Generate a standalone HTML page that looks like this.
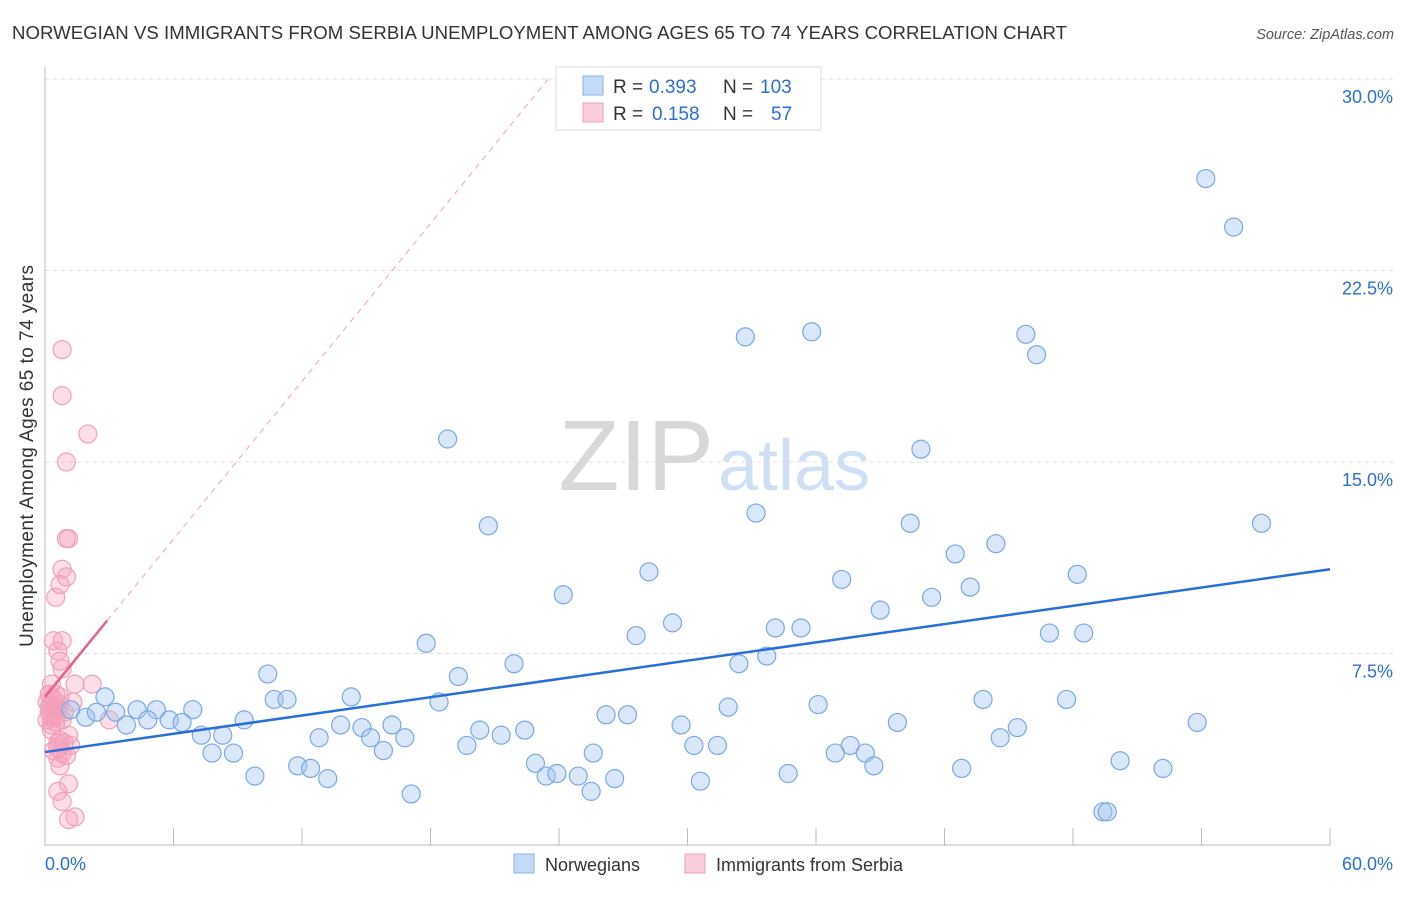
<!DOCTYPE html>
<html><head><meta charset="utf-8"><style>
body{margin:0;background:#fff;font-family:"Liberation Sans",sans-serif}
svg text{font-family:"Liberation Sans",sans-serif}
</style></head><body>
<svg id="c" width="1406" height="892" xmlns="http://www.w3.org/2000/svg">
<text x="12" y="39" font-size="18.6" fill="#333" textLength="1055">NORWEGIAN VS IMMIGRANTS FROM SERBIA UNEMPLOYMENT AMONG AGES 65 TO 74 YEARS CORRELATION CHART</text>
<text x="1394" y="39" font-size="14.5" fill="#555" text-anchor="end" font-style="italic">Source: ZipAtlas.com</text>
<text x="714" y="490" font-size="100" text-anchor="end" fill="#d8d8d8" font-family="Liberation Serif">ZIP</text>
<text x="718" y="490" font-size="72" fill="#cfe0f5">atlas</text>
<text transform="translate(33,456) rotate(-90)" font-size="19" fill="#333" text-anchor="middle" textLength="382">Unemployment Among Ages 65 to 74 years</text>
<g id="grid"></g><g id="axes"></g><g id="pink"></g><g id="blue"></g><g id="trend"></g>
<g>
<rect x="556" y="67" width="265" height="63" fill="#fff" stroke="#ddd"/>
<rect x="583" y="76" width="20" height="19" fill="#c5daf6" stroke="#8ab3e8"/>
<rect x="583" y="103" width="20" height="19" fill="#f9cdd9" stroke="#f0a0b8"/>
<text x="613" y="93" font-size="19" fill="#333">R =</text>
<text x="649" y="93" font-size="19" fill="#2a6fd6">0.393</text>
<text x="723" y="93" font-size="19" fill="#333">N =</text>
<text x="760" y="93" font-size="19" fill="#2a6fd6">103</text>
<text x="613" y="120" font-size="19" fill="#333">R =</text>
<text x="652" y="120" font-size="19" fill="#2a6fd6">0.158</text>
<text x="723" y="120" font-size="19" fill="#333">N =</text>
<text x="771" y="120" font-size="19" fill="#2a6fd6">57</text>
</g>
<g>
<rect x="514" y="854" width="20" height="19" fill="#c5daf6" stroke="#8ab3e8"/>
<text x="545" y="871" font-size="18" fill="#333">Norwegians</text>
<rect x="685" y="854" width="20" height="19" fill="#f9cdd9" stroke="#f0a0b8"/>
<text x="716" y="871" font-size="18" fill="#333">Immigrants from Serbia</text>
</g>
</svg>
<script>
const yTicks=[7.5,15,22.5,30];
const yTickLabels=["7.5%","15.0%","22.5%","30.0%"];
const xTickLabels=["0.0%","60.0%"];
const blueX=[54.2,55.5,32.7,35.8,45.8,46.3,18.8,40.9,20.7,33.2,40.4,56.8,44.4,42.5,28.2,37.2,48.2,43.2,24.2,41.4,39.0,29.3,27.6,34.1,35.3,46.9,48.5,17.8,33.7,32.4,21.9,19.3,10.4,2.8,10.7,11.3,14.3,18.4,43.8,47.7,36.1,31.9,3.3,4.3,5.2,6.9,1.2,1.9,2.4,3.8,4.8,5.8,6.4,9.3,26.2,27.2,29.7,39.8,53.8,13.8,14.8,16.2,20.3,22.4,45.4,7.3,8.3,12.8,15.2,16.8,21.3,44.6,19.7,30.3,31.4,37.6,7.8,8.8,15.8,25.6,36.9,38.3,50.2,22.9,11.8,12.4,38.7,42.8,52.2,9.8,13.2,23.4,23.9,24.9,26.6,34.7,30.6,25.5,17.1,49.4,49.6];
const blueY=[26.1,24.2,19.9,20.1,20.0,19.2,15.9,15.5,12.5,13.0,12.6,12.6,11.8,11.4,10.7,10.4,10.6,10.1,9.8,9.7,9.2,8.7,8.2,8.5,8.5,8.3,8.3,7.9,7.4,7.1,7.1,6.6,6.7,5.8,5.7,5.7,5.8,5.6,5.7,5.7,5.5,5.4,5.2,5.3,5.3,5.3,5.3,5.0,5.2,4.7,4.9,4.9,4.8,4.9,5.1,5.1,4.7,4.8,4.8,4.7,4.6,4.7,4.5,4.5,4.6,4.3,4.3,4.2,4.2,4.2,4.3,4.2,3.9,3.9,3.9,3.9,3.6,3.6,3.7,3.6,3.6,3.6,3.3,3.2,3.1,3.0,3.1,3.0,3.0,2.7,2.6,2.7,2.8,2.7,2.6,2.8,2.5,2.1,2.0,1.3,1.3];
const pinkX=[0.8,0.8,2.0,1.0,1.0,1.1,0.8,1.0,0.7,0.5,0.4,0.8,0.6,0.7,0.8,2.2,1.4,0.3,0.2,0.5,0.7,0.1,0.3,0.5,0.2,0.4,0.6,0.7,0.5,0.1,3.0,0.3,0.3,1.1,0.7,0.9,1.2,0.6,0.8,0.6,0.7,1.1,0.6,0.8,1.4,1.1,0.4,0.2,0.9,1.3,0.3,0.5,0.6,0.4,0.2,1.0,0.8];
const pinkY=[19.4,17.6,16.1,15.0,12.0,12.0,10.8,10.5,10.2,9.7,8.0,8.0,7.6,7.2,6.9,6.3,6.3,6.3,5.9,5.9,5.8,5.6,5.5,5.4,5.2,5.1,5.3,5.5,5.0,4.9,4.9,4.7,4.5,4.3,4.1,4.0,3.9,3.8,3.6,3.4,3.1,2.4,2.1,1.7,1.1,1.0,5.7,5.4,5.2,5.6,5.0,4.8,4.0,3.7,5.9,3.5,4.9];
const blueTrend=[3.64,10.8];
const pinkTrend=[5.8,1.03];
const NS="http://www.w3.org/2000/svg";
const X=v=>45+v/60*1285, Y=v=>845-v/30*766;
function mk(p,t,a){const e=document.createElementNS(NS,t);for(const k in a)e.setAttribute(k,a[k]);p.appendChild(e);return e;}
const grid=document.getElementById('grid'),axes=document.getElementById('axes');
yTicks.forEach((t,i)=>{
 const l=mk(grid,'line',{x1:45,x2:1393,y1:Y(t),y2:Y(t),stroke:'#ddd','stroke-dasharray':'4,4'});
 
 
 const tx=mk(grid,'text',{x:1393,y:Y(t)+24,'font-size':18,fill:'#2a6fd6','text-anchor':'end'});tx.textContent=yTickLabels[i];
 
 
});
const ax=mk(axes,'path',{d:'M45,67V845H1330',stroke:'#bbb',fill:'none'});


for(let i=1;i<=10;i++){const t=mk(axes,'line',{x1:X(i*6),x2:X(i*6),y1:828,y2:845,stroke:'#bbb'});
 
 }
[[0,'start',45],[60,'end',1393]].forEach((d,i)=>{const t=mk(axes,'text',{x:d[2],y:870,'font-size':18,fill:'#2a6fd6','text-anchor':d[1]});t.textContent=xTickLabels[i];
 
 });
const pg=document.getElementById('pink'),bg=document.getElementById('blue');
pinkX.forEach((x,i)=>{const c=mk(pg,'circle',{cx:X(x),cy:Y(pinkY[i]),r:9,fill:'rgba(246,160,186,0.35)',stroke:'#f0a0b8','stroke-width':1.2});
 
 });
blueX.forEach((x,i)=>{const c=mk(bg,'circle',{cx:X(x),cy:Y(blueY[i]),r:9,fill:'rgba(160,196,240,0.4)',stroke:'#7aa8e6','stroke-width':1.2});
 
 });
const tg=document.getElementById('trend');
const b=mk(tg,'line',{x1:X(0),y1:Y(blueTrend[0]),x2:X(60),y2:Y(blueTrend[1]),stroke:'#2a6fd6','stroke-width':2.5});


const xe=(30-pinkTrend[0])/pinkTrend[1];
const pd=mk(tg,'line',{x1:X(2.9),y1:Y(pinkTrend[0]+pinkTrend[1]*2.9),x2:X(xe),y2:Y(30),stroke:'#f0a0b8','stroke-width':1,'stroke-dasharray':'6,5'});


const ps=mk(tg,'line',{x1:X(0),y1:Y(pinkTrend[0]),x2:X(2.9),y2:Y(pinkTrend[0]+pinkTrend[1]*2.9),stroke:'#e8608a','stroke-width':2.5});


</script>
</body></html>
